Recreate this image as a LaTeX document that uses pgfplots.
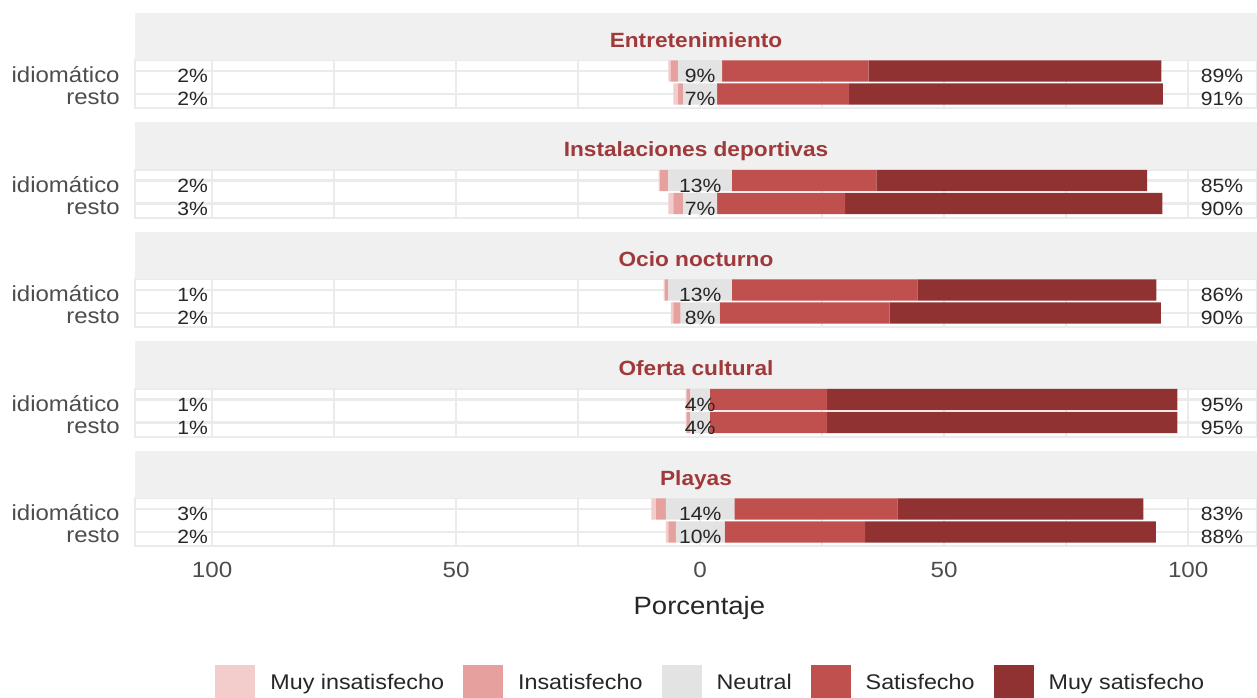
\documentclass[border=0pt]{standalone}
\usepackage{pgfplots}
\pgfplotsset{compat=1.18}
\usepackage{pgfplotstable}
\usepackage{fontspec}
\setmainfont{Liberation Sans}[FakeStretch=1.1]
\definecolor{cmins}{HTML}{F2CDCC}
\definecolor{cins}{HTML}{E6A19E}
\definecolor{cneu}{HTML}{E3E3E3}
\definecolor{csat}{HTML}{C0504D}
\definecolor{cmsat}{HTML}{913232}
\definecolor{cstrip}{HTML}{F0F0F0}
\definecolor{cgrid}{HTML}{EBEBEB}
\definecolor{ctitle}{HTML}{A0393A}
\definecolor{cylab}{HTML}{4D4D4D}
\definecolor{clab}{HTML}{262626}
\newcommand{\ylfont}{\fontsize{10.9}{12}\selectfont}
\newcommand{\titlefont}{\fontsize{10.3}{12}\selectfont\bfseries}
\newcommand{\pctfont}{\fontsize{9.6}{11}\selectfont}

% y: 2 = idiomatico, 1 = resto
\pgfplotstableread{
y mi in ne sa ms lo hi
2 0.5 1.5 9 30 60 2 89
1 1.0 1.0 7 27 64.3 2 91
}\tA
\pgfplotstableread{
y mi in ne sa ms lo hi
2 0.3 1.7 13 29.6 55.5 2 85
1 1.0 2.0 7 26.2 65 3 90
}\tB
\pgfplotstableread{
y mi in ne sa ms lo hi
2 0.3 0.7 13 38 49 1 86
1 0.5 1.5 8 34.8 55.6 2 90
}\tC
\pgfplotstableread{
y mi in ne sa ms lo hi
2 0.3 0.7 4 24 71.8 1 95
1 0.3 0.7 4 24 71.8 1 95
}\tD
\pgfplotstableread{
y mi in ne sa ms lo hi
2 1.0 2.0 14 33.4 50.4 3 83
1 0.5 1.5 10 28.8 59.6 2 88
}\tE

\pgfplotsset{
  base/.style={scale only axis, width=561pt, height=24pt,
    xmin=-115.8, xmax=114.1, ymin=0.39, ymax=2.48, anchor=north west,
    /pgf/number format/assume math mode=true},
  lab/.style={draw=none, mark=none, point meta=explicit,
    nodes near coords={\pgfmathprintnumber{\pgfplotspointmeta}\%},
    every node near coord/.append style={font=\pctfont, text=clab, inner sep=0pt, yshift=-2.5pt}},
}

\newcommand{\facet}[4]{%
  \begin{axis}[base, at={(67.5pt,#3)}, xbar stacked, bar width=0.92,
    axis line style={draw=cgrid, line width=1pt},
    xtick={-100,-50,0,50,100}, minor xtick={-75,-25,25,75},
    xmajorgrids, xminorgrids, ymajorgrids,
    major grid style={draw=cgrid, line width=1.2pt},
    minor grid style={draw=cgrid, line width=1pt},
    tick style={draw=none}, xticklabels={},
    ytick={1,2}, yticklabels={resto,idiomático},
    yticklabel style={anchor=east, inner sep=0pt, xshift=-7.5pt, yshift=-2pt, text=cylab, font=\ylfont},
    title={#2},
    title style={at={(0.5,1)}, anchor=south, yshift=-6pt, fill=cstrip,
      minimum width=561pt, minimum height=23.5pt, inner sep=0pt,
      text height=11pt, text depth=0pt,
      font=\titlefont, text=ctitle},
    #4]
    \addplot[fill=cneu, draw=none] table[x expr=-\thisrow{ne}/2, y=y]{#1};
    \addplot[fill=cins, draw=none] table[x expr=-\thisrow{in}, y=y]{#1};
    \addplot[fill=cmins, draw=none] table[x expr=-\thisrow{mi}, y=y]{#1};
  \end{axis}
  \begin{axis}[base, at={(67.5pt,#3)}, hide axis, xbar stacked, bar width=0.92]
    \addplot[fill=cneu, draw=none] table[x expr=\thisrow{ne}/2, y=y]{#1};
    \addplot[fill=csat, draw=none] table[x=sa, y=y]{#1};
    \addplot[fill=cmsat, draw=none] table[x=ms, y=y]{#1};
  \end{axis}
  \begin{axis}[base, at={(67.5pt,#3)}, hide axis, clip=false]
    \addplot[lab, nodes near coords align={anchor=east}] table[x expr=-100.8, y=y, meta=lo]{#1};
    \addplot[lab, nodes near coords align={anchor=center}] table[x expr=0, y=y, meta=ne]{#1};
    \addplot[lab, nodes near coords align={anchor=west}] table[x expr=102.5, y=y, meta=hi]{#1};
  \end{axis}
}

\begin{document}
\begin{tikzpicture}
\facet{\tA}{Entretenimiento}{-30pt}{}
\facet{\tB}{Instalaciones deportivas}{-84.75pt}{}
\facet{\tC}{Ocio nocturno}{-139.5pt}{}
\facet{\tD}{Oferta cultural}{-194.25pt}{}
\facet{\tE}{Playas}{-249pt}{xticklabels={100,50,0,50,100},
  xticklabel style={inner sep=0pt, yshift=-8pt, text=cylab, font=\fontsize{11}{12}\selectfont},
  xlabel={Porcentaje},
  xlabel style={at={(axis description cs:0.503,0)}, anchor=center, yshift=-31pt,
    inner sep=0pt, text=clab, font=\fontsize{12.5}{14}\selectfont}}
% legend
\begin{axis}[scale only axis, width=628.5pt, height=348.5pt, at={(0pt,-348.5pt)},
  anchor=south west, hide axis, xmin=0, xmax=1257, ymin=0, ymax=697,
  legend image code/.code={\fill[#1] (0pt,-9pt) rectangle (20pt,9pt);},
  legend style={at={(axis cs:215,14)}, anchor=west, draw=none, fill=none,
    inner sep=0pt, legend columns=5,
    font=\fontsize{10.6}{12}\selectfont, text=clab,
    /tikz/every odd column/.append style={column sep=5.5pt},
    /tikz/every even column/.append style={column sep=7.5pt}},
  legend cell align=left]
  \addplot[draw=none, forget plot] coordinates {(0,0)};
  \addlegendimage{fill=cmins, draw=none}\addlegendentry{Muy insatisfecho}
  \addlegendimage{fill=cins, draw=none}\addlegendentry{Insatisfecho}
  \addlegendimage{fill=cneu, draw=none}\addlegendentry{Neutral}
  \addlegendimage{fill=csat, draw=none}\addlegendentry{Satisfecho}
  \addlegendimage{fill=cmsat, draw=none}\addlegendentry{Muy satisfecho}
\end{axis}
\pgfresetboundingbox
\useasboundingbox (0pt,0pt) rectangle (628.5pt,-348.5pt);
\end{tikzpicture}
\end{document}
